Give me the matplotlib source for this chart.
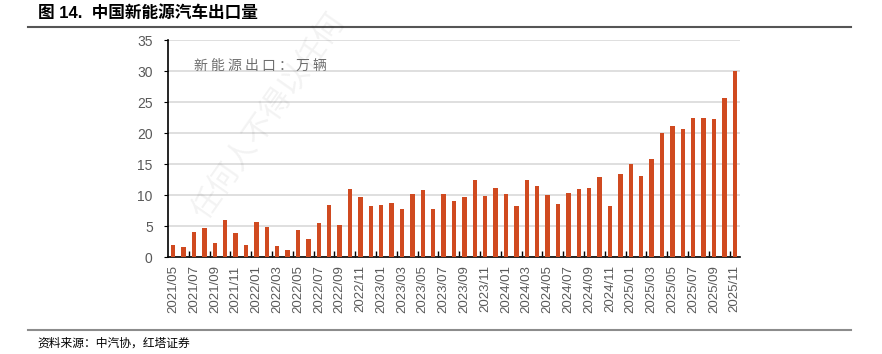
import numpy as np
import matplotlib.pyplot as plt

plt.rcParams['font.family'] = ['Liberation Sans', 'Noto Sans CJK SC', 'DejaVu Sans']

# monthly NEV exports, 2021/05 - 2025/11, unit: 10k vehicles
months = []
for y in range(2021, 2026):
    for m in range(1, 13):
        if (y == 2021 and m < 5) or (y == 2025 and m > 11):
            continue
        months.append(f"{y}/{m:02d}")

exports = [2.0, 1.6, 4.0, 4.6, 2.3, 6.0, 3.8, 1.9,
           5.6, 4.8, 1.7, 1.2, 4.4, 2.9, 5.5, 8.4, 5.1, 10.9, 9.6, 8.3,
           8.4, 8.7, 7.8, 10.1, 10.8, 7.8, 10.1, 9.1, 9.6, 12.4, 9.8, 11.1,
           10.1, 8.2, 12.4, 11.5, 10.0, 8.6, 10.3, 11.0, 11.1, 12.9, 8.3, 13.4,
           15.0, 13.1, 15.8, 20.0, 21.2, 20.6, 22.5, 22.4, 22.2, 25.6, 30.0]

grey = '#595959'
fig = plt.figure(figsize=(8.82, 3.54), dpi=100)
ax = fig.add_axes([0.1905, 0.274, 0.6485, 0.613])

x = np.arange(len(months))
ax.bar(x, exports, width=0.42, color='#D04A20', zorder=3)

ax.set_xlim(-0.5, len(months) - 0.5)
ax.set_ylim(0, 35)
ax.set_yticks(range(0, 36, 5))
ax.grid(axis='y', color='#D9D9D9', linewidth=1.2, zorder=0)

ax.set_xticks(x[::2])
ax.set_xticklabels(months[::2], rotation=90, color=grey, fontsize=9.5)
ax.tick_params(axis='x', which='major', length=0, pad=6)
ax.set_xticks(np.arange(1.5, len(months) - 1, 2), minor=True)
ax.tick_params(axis='x', which='minor', direction='in', length=4, width=1, color='black')
ax.tick_params(axis='y', labelsize=10, labelcolor=grey, length=3, width=0.8, pad=8)

for s in ['top', 'right']:
    ax.spines[s].set_visible(False)
ax.spines['left'].set_linewidth(1.2)
ax.spines['bottom'].set_linewidth(1.2)

ax.text(0.045, 0.88, '新 能 源 出 口 ： 万 辆', transform=ax.transAxes, fontsize=10,
        color='#6e6e6e', ha='left', va='center', family=['Noto Sans CJK SC'])

# faint watermark
fig.text(0.305, 0.67, '任何人不得以任何', rotation=55, fontsize=22,
         color='#000000', alpha=0.05, ha='center', va='center',
         family=['Noto Sans CJK SC'])

fig.text(0.043, 0.962, '图 14.  中国新能源汽车出口量', fontsize=12, fontweight='bold',
         ha='left', va='center', family=['Liberation Sans', 'Noto Sans CJK SC'])
fig.add_artist(plt.Line2D([0.032, 0.965], [0.923, 0.923], color='#555555', linewidth=1.5))
fig.add_artist(plt.Line2D([0.032, 0.965], [0.068, 0.068], color='#8c8c8c', linewidth=1.5))
fig.text(0.043, 0.03, '资料来源：中汽协，红塔证券', fontsize=8.5, ha='left', va='center',
         family=['Noto Sans CJK SC'])

fig.savefig('out.png', dpi=100)
